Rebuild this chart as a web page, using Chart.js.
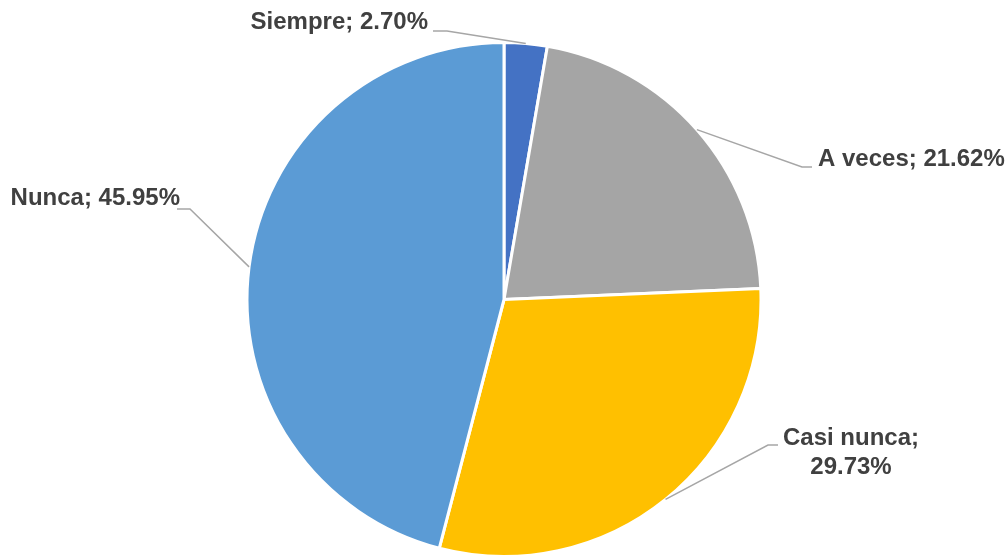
<!DOCTYPE html>
<html>
<head>
<meta charset="utf-8">
<script src="https://cdn.jsdelivr.net/npm/chart.js@4/dist/chart.umd.min.js"></script>
<style>
html,body{margin:0;padding:0;background:#fff;}
#wrap{width:1007px;height:558px;position:relative;}
</style>
</head>
<body>
<div id="wrap"><canvas id="c" width="1007" height="558"></canvas></div>
<script>
const categories = ['Siempre', 'A veces', 'Casi nunca', 'Nunca'];
const values = [2.70, 21.62, 29.73, 45.95];
const sliceColors = ['#4472C4', '#A5A5A5', '#FFC000', '#5B9BD5'];

// label layout: elbow point, line end, text anchor, alignment, lines
const labelLayout = [
  {elbow:[447,31], end:[433,31], tx:428, ty:[22], align:'right'},
  {elbow:[802,167], end:[812,167], tx:818, ty:[159], align:'left'},
  {elbow:[768,445], end:[778,445], tx:851, ty:[438,467], align:'center', split:true},
  {elbow:[190,209], end:[177,209], tx:180, ty:[198], align:'right'}
];

const labelPlugin = {
  id: 'leaderLabels',
  afterDatasetsDraw(chart) {
    const ctx = chart.ctx;
    const meta = chart.getDatasetMeta(0);
    meta.data.forEach((arc, i) => {
      const p = arc.getProps(['x','y','startAngle','endAngle','outerRadius'], true);
      const mid = (p.startAngle + p.endAngle) / 2;
      const ax = p.x + Math.cos(mid) * p.outerRadius;
      const ay = p.y + Math.sin(mid) * p.outerRadius;
      const L = labelLayout[i];
      ctx.save();
      ctx.strokeStyle = '#A6A6A6';
      ctx.lineWidth = 1.5;
      ctx.beginPath();
      ctx.moveTo(ax, ay);
      ctx.lineTo(L.elbow[0], L.elbow[1]);
      ctx.lineTo(L.end[0], L.end[1]);
      ctx.stroke();
      ctx.fillStyle = '#404040';
      ctx.font = 'bold 24px "Liberation Sans", Arial, sans-serif';
      ctx.textAlign = L.align;
      ctx.textBaseline = 'middle';
      const pct = values[i].toFixed(2) + '%';
      const lines = L.split ? [categories[i] + ';', pct] : [categories[i] + '; ' + pct];
      lines.forEach((t, k) => ctx.fillText(t, L.tx, L.ty[k]));
      ctx.restore();
    });
  }
};

new Chart(document.getElementById('c'), {
  type: 'pie',
  data: {
    labels: categories,
    datasets: [{
      data: values,
      backgroundColor: sliceColors,
      borderColor: '#FFFFFF',
      borderWidth: 3
    }]
  },
  options: {
    responsive: false,
    animation: false,
    layout: { padding: { top: 41, bottom: -2, left: 200, right: 199 } },
    plugins: { legend: { display: false }, tooltip: { enabled: false } }
  },
  plugins: [labelPlugin]
});
</script>
</body>
</html>
